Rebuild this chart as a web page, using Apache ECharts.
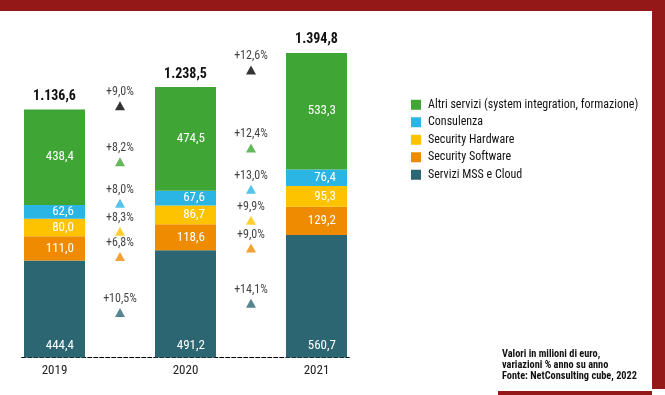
<!DOCTYPE html>
<html>
<head>
<meta charset="utf-8">
<script src="https://cdn.jsdelivr.net/npm/echarts@6/dist/echarts.min.js"></script>
<style>
html,body{margin:0;padding:0;background:#fff;}
#chart{width:665px;height:395px;}
</style>
</head>
<body>
<div id="chart"></div>
<script>
// ---- Data ----
const categories = ['2019', '', '2020', '', '2021'];
const seriesNames = ['Servizi MSS e Cloud', 'Security Software', 'Security Hardware', 'Consulenza', 'Altri servizi (system integration, formazione)'];
const mssCloud = [444.4, null, 491.2, null, 560.7];
const secSoftware = [111.0, null, 118.6, null, 129.2];
const secHardware = [80.0, null, 86.7, null, 95.3];
const consulenza = [62.6, null, 67.6, null, 76.4];
const altriServizi = [438.4, null, 474.5, null, 533.3];
const totals = [1136.6, null, 1238.5, null, 1394.8];
// growth annotations (order: MSS, Software, Hardware, Consulenza, Altri, Totale)
const growth2020 = ['+10,5%', '+6,8%', '+8,3%', '+8,0%', '+8,2%', '+9,0%'];
const growth2021 = ['+14,1%', '+9,0%', '+9,9%', '+13,0%', '+12,4%', '+12,6%'];
// vertical level (in euro-million units) at which each growth marker sits
const growthLevel2020 = [206, 463, 578, 707, 896, 1153];
const growthLevel2021 = [249, 501, 629, 771, 960, 1317];
const noteLines = ['Valori in milioni di euro,', 'variazioni % anno su anno', 'Fonte: NetConsulting cube, 2022'];

const colors = ['#2c6673', '#ef8b00', '#fec300', '#2bb5e4', '#3fa535'];
const markerColors = colors.concat(['#000000']);
const FONT = '"Liberation Sans Narrow", "Roboto Condensed", "Liberation Sans", sans-serif';

const fmt = v => v.toFixed(1).replace('.', ',');
const fmtTotal = v => {
  const s = v.toFixed(1).split('.');
  return s[0].replace(/\B(?=(\d{3})+(?!\d))/g, '.') + ',' + s[1];
};

const seriesData = [mssCloud, secSoftware, secHardware, consulenza, altriServizi];

const barSeries = seriesData.map((d, i) => ({
  name: seriesNames[i],
  type: 'bar',
  stack: 'tot',
  barWidth: 61,
  data: d,
  itemStyle: { color: colors[i] },
  label: {
    show: true,
    position: i === 0 ? 'insideBottomRight' : 'insideRight',
    distance: i === 0 ? 5 : 11,
    offset: i === 0 ? [-6, 0] : [0, 0],
    color: '#fff',
    fontFamily: FONT,
    fontSize: 13,
    formatter: p => (p.value == null ? '' : fmt(p.value))
  }
}));

const totalSeries = {
  name: 'Totale',
  type: 'bar',
  barWidth: 61,
  barGap: '-100%',
  data: totals,
  itemStyle: { color: 'rgba(0,0,0,0)' },
  silent: true,
  z: 0,
  label: {
    show: true,
    position: 'top',
    distance: 6,
    color: '#111',
    fontFamily: FONT,
    fontSize: 14,
    fontWeight: 'bold',
    formatter: p => (p.value == null ? '' : fmtTotal(p.value))
  }
};

const markerData = [];
growth2020.forEach((g, i) => markerData.push({ value: [1, growthLevel2020[i]], txt: g, itemStyle: { color: markerColors[i] } }));
growth2021.forEach((g, i) => markerData.push({ value: [3, growthLevel2021[i]], txt: g, itemStyle: { color: markerColors[i] } }));

const markerSeries = {
  name: 'Variazioni',
  type: 'scatter',
  symbol: 'triangle',
  symbolSize: [10, 9],
  data: markerData,
  label: {
    show: true,
    position: 'top',
    distance: 3,
    color: '#111',
    fontFamily: FONT,
    fontSize: 12,
    formatter: p => p.data.txt
  }
};

const chart = echarts.init(document.getElementById('chart'), null, { renderer: 'canvas' });
chart.setOption({
  animation: false,
  backgroundColor: '#fff',
  textStyle: { fontFamily: FONT },
  grid: { left: 21.75, width: 327.5, top: 30, bottom: 37.5 },
  legend: {
    data: seriesNames.slice().reverse(),
    orient: 'vertical',
    left: 406,
    top: 93,
    itemWidth: 10,
    itemHeight: 10,
    itemGap: 4,
    icon: 'rect',
    textStyle: { fontFamily: FONT, fontSize: 12, color: '#111', lineHeight: 13.5, padding: [0, 0, 0, 2] },
    selectedMode: false
  },
  xAxis: {
    type: 'category',
    data: categories,
    axisLine: { lineStyle: { color: '#000', width: 1, type: [4, 2] } },
    axisTick: { show: false },
    axisLabel: { color: '#222', fontFamily: FONT, fontSize: 13, margin: 7 }
  },
  yAxis: {
    type: 'value',
    min: 0,
    max: 1500,
    show: false,
    splitLine: { show: false }
  },
  series: [totalSeries].concat(barSeries, [markerSeries]),
  graphic: [
    { type: 'rect', shape: { x: 0, y: 0, width: 665, height: 11 }, style: { fill: '#951818' }, silent: true },
    { type: 'rect', shape: { x: 652, y: 0, width: 13, height: 389 }, style: { fill: '#951818' }, silent: true },
    { type: 'rect', shape: { x: 498, y: 391, width: 154, height: 4 }, style: { fill: '#951818' }, silent: true },
    {
      type: 'text', left: 502, top: 349,
      style: { text: noteLines.join('\n'), fill: '#111', font: 'bold 10.3px ' + FONT, lineHeight: 11 }
    }
  ]
});
</script>
</body>
</html>
